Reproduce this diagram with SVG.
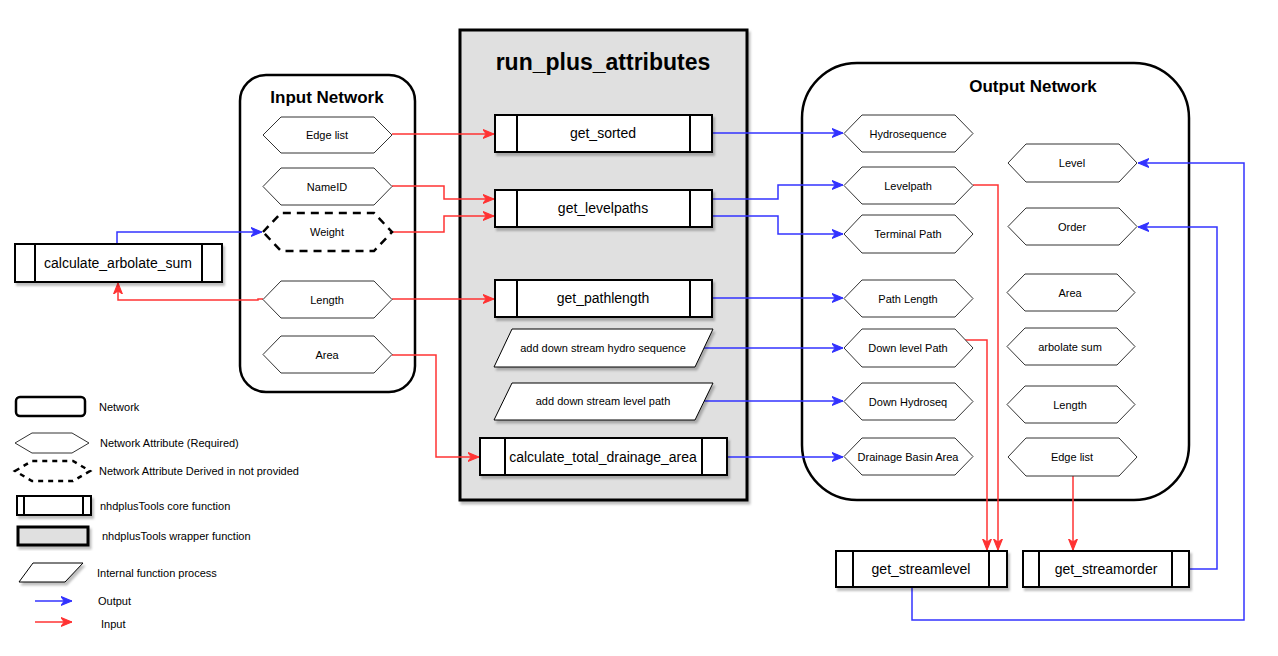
<svg xmlns="http://www.w3.org/2000/svg" width="1278" height="656" viewBox="0 0 1278 656">
<defs>
<style>
text{font-family:"Liberation Sans",Arial,Helvetica,sans-serif;fill:#000;text-anchor:middle}
.t11{font-size:11px}
.t14{font-size:14px}
.title{font-size:17px;font-weight:bold}
.big{font-size:23px;font-weight:bold}
.lg{font-size:11px;text-anchor:start}
.hex{fill:#fff;stroke:#333;stroke-width:1}
.hexd{fill:#fff;stroke:#000;stroke-width:2.5;stroke-dasharray:8 6}
.net{fill:#fff;stroke:#000;stroke-width:2.5}
.core{fill:#fff;stroke:#000;stroke-width:2}
.wrap{fill:#e0e0e0;stroke:#000;stroke-width:3}
.para{fill:#fff;stroke:#000;stroke-width:1}
.red{fill:none;stroke:#ff3333;stroke-width:1.5;marker-end:url(#ar)}
.blue{fill:none;stroke:#3333ff;stroke-width:1.5;marker-end:url(#ab)}
</style>
<filter id="sh" x="-10%" y="-10%" width="130%" height="140%">
<feDropShadow dx="2" dy="3" stdDeviation="1" flood-color="#000" flood-opacity="0.25"/>
</filter>
<marker id="ar" viewBox="0 0 10 10" refX="10" refY="5" markerWidth="11" markerHeight="11" markerUnits="userSpaceOnUse" orient="auto">
<path d="M0,1 L10,5 L0,9 L3,5 Z" fill="#ff3333" stroke="#ff3333" stroke-width="1"/>
</marker>
<marker id="ab" viewBox="0 0 10 10" refX="10" refY="5" markerWidth="11" markerHeight="11" markerUnits="userSpaceOnUse" orient="auto">
<path d="M0,1 L10,5 L0,9 L3,5 Z" fill="#3333ff" stroke="#3333ff" stroke-width="1"/>
</marker>
</defs>
<rect x="0" y="0" width="1278" height="656" fill="#fff"/>

<!-- Containers -->
<g id="run_plus_attributes">
<rect class="wrap" x="460" y="30" width="287" height="470" filter="url(#sh)"/>
<text class="big" x="603" y="70">run_plus_attributes</text>
</g>
<g id="input_network">
<rect class="net" x="240" y="75" width="175" height="317" rx="26" ry="26"/>
<text class="title" x="327" y="103">Input Network</text>
</g>
<g id="output_network">
<rect class="net" x="802" y="63" width="387" height="437" rx="55" ry="55"/>
<text class="title" x="1033" y="92">Output Network</text>
</g>

<!-- Connectors -->
<g id="connectors">
<path class="blue" d="M117,244 L117,232 L262,232"/>
<path class="red" d="M263,299 L258,299 L258,300 L118,300 L118,283"/>
<path class="red" d="M392,134 L494,134"/>
<path class="red" d="M392,186 L444,186 L444,199 L494,199"/>
<path class="red" d="M392,232 L444,232 L444,216 L494,216"/>
<path class="red" d="M392,299 L494,299"/>
<path class="red" d="M392,355 L436,355 L436,457 L479,457"/>
<path class="blue" d="M712,133 L843,133"/>
<path class="blue" d="M712,199 L778,199 L778,185 L843,185"/>
<path class="blue" d="M712,216 L778,216 L778,234 L843,234"/>
<path class="blue" d="M712,298 L843,298"/>
<path class="blue" d="M703,348 L843,348"/>
<path class="blue" d="M703,401 L843,401"/>
<path class="blue" d="M727,457 L843,457"/>
<path class="red" d="M973,185 L998,185 L998,550"/>
<path class="red" d="M965,340 L987,340 L987,550"/>
<path class="red" d="M1073,476 L1073,550"/>
<path class="blue" d="M1189,569 L1217,569 L1217,227 L1138,227"/>
<path class="blue" d="M912,587 L912,620 L1244,620 L1244,163 L1138,163"/>
</g>

<!-- calculate_arbolate_sum -->
<g id="calculate_arbolate_sum">
<rect class="core" x="15" y="244" width="207" height="38" filter="url(#sh)"/>
<line x1="35" y1="244" x2="35" y2="282" stroke="#000" stroke-width="2"/>
<line x1="202" y1="244" x2="202" y2="282" stroke="#000" stroke-width="2"/>
<text class="t14" x="118" y="268">calculate_arbolate_sum</text>
</g>

<!-- Input attributes -->
<g id="in_edge_list">
<polygon class="hex" points="263,135 281,117 374,117 392,135 374,153 281,153"/>
<text class="t11" x="327" y="139">Edge list</text>
</g>
<g id="in_nameid">
<polygon class="hex" points="263,186.5 281,168 374,168 392,186.5 374,205 281,205"/>
<text class="t11" x="327" y="190.5">NameID</text>
</g>
<g id="in_weight">
<polygon class="hexd" points="263,232 281,213 374,213 392,232 374,251 281,251"/>
<text class="t11" x="327" y="236">Weight</text>
</g>
<g id="in_length">
<polygon class="hex" points="263,299.5 281,281 374,281 392,299.5 374,318 281,318"/>
<text class="t11" x="327" y="303.5">Length</text>
</g>
<g id="in_area">
<polygon class="hex" points="263,354.5 281,336 374,336 392,354.5 374,373 281,373"/>
<text class="t11" x="327" y="358.5">Area</text>
</g>

<!-- Core functions inside wrapper -->
<g id="get_sorted">
<rect class="core" x="495" y="115" width="217" height="37" filter="url(#sh)"/>
<line x1="517" y1="115" x2="517" y2="152" stroke="#000" stroke-width="2"/>
<line x1="690" y1="115" x2="690" y2="152" stroke="#000" stroke-width="2"/>
<text class="t14" x="603" y="138">get_sorted</text>
</g>
<g id="get_levelpaths">
<rect class="core" x="495" y="190" width="217" height="37" filter="url(#sh)"/>
<line x1="517" y1="190" x2="517" y2="227" stroke="#000" stroke-width="2"/>
<line x1="690" y1="190" x2="690" y2="227" stroke="#000" stroke-width="2"/>
<text class="t14" x="603" y="213">get_levelpaths</text>
</g>
<g id="get_pathlength">
<rect class="core" x="495" y="280" width="217" height="37" filter="url(#sh)"/>
<line x1="517" y1="280" x2="517" y2="317" stroke="#000" stroke-width="2"/>
<line x1="690" y1="280" x2="690" y2="317" stroke="#000" stroke-width="2"/>
<text class="t14" x="603" y="303">get_pathlength</text>
</g>
<g id="add_ds_hydroseq">
<polygon class="para" points="494,367 512,329 713,329 695,367" filter="url(#sh)"/>
<text class="t11" x="603" y="352">add down stream hydro sequence</text>
</g>
<g id="add_ds_levelpath">
<polygon class="para" points="494,420 512,383 713,383 695,420" filter="url(#sh)"/>
<text class="t11" x="603" y="405">add down stream level path</text>
</g>
<g id="calculate_total_drainage_area">
<rect class="core" x="480" y="438" width="247" height="37" filter="url(#sh)"/>
<line x1="505" y1="438" x2="505" y2="475" stroke="#000" stroke-width="2"/>
<line x1="702" y1="438" x2="702" y2="475" stroke="#000" stroke-width="2"/>
<text class="t14" x="603" y="461.5">calculate_total_drainage_area</text>
</g>

<!-- Output attributes left column -->
<g id="out_hydrosequence">
<polygon class="hex" points="844,133.5 862,115 955,115 973,133.5 955,152 862,152"/>
<text class="t11" x="908" y="137.5">Hydrosequence</text>
</g>
<g id="out_levelpath">
<polygon class="hex" points="844,185.5 862,167 955,167 973,185.5 955,204 862,204"/>
<text class="t11" x="908" y="189.5">Levelpath</text>
</g>
<g id="out_terminal_path">
<polygon class="hex" points="844,234 862,215 955,215 973,234 955,253 862,253"/>
<text class="t11" x="908" y="238">Terminal Path</text>
</g>
<g id="out_path_length">
<polygon class="hex" points="844,298.5 862,280 955,280 973,298.5 955,317 862,317"/>
<text class="t11" x="908" y="302.5">Path Length</text>
</g>
<g id="out_down_level_path">
<polygon class="hex" points="844,348 862,329 955,329 973,348 955,367 862,367"/>
<text class="t11" x="908" y="352">Down level Path</text>
</g>
<g id="out_down_hydroseq">
<polygon class="hex" points="844,401.5 862,383 955,383 973,401.5 955,420 862,420"/>
<text class="t11" x="908" y="405.5">Down Hydroseq</text>
</g>
<g id="out_drainage_basin_area">
<polygon class="hex" points="844,456.5 862,438 955,438 973,456.5 955,475 862,475"/>
<text class="t11" x="908" y="460.5">Drainage Basin Area</text>
</g>

<!-- Output attributes right column -->
<g id="out_level">
<polygon class="hex" points="1008,163 1026,144 1119,144 1137,163 1119,182 1026,182"/>
<text class="t11" x="1072" y="167">Level</text>
</g>
<g id="out_order">
<polygon class="hex" points="1008,226.5 1026,208 1119,208 1137,226.5 1119,245 1026,245"/>
<text class="t11" x="1072" y="230.5">Order</text>
</g>
<g id="out_area">
<polygon class="hex" points="1007,292.5 1025,274 1117,274 1135,292.5 1117,311 1025,311"/>
<text class="t11" x="1070" y="296.5">Area</text>
</g>
<g id="out_arbolate_sum">
<polygon class="hex" points="1007,346.5 1025,328 1117,328 1135,346.5 1117,365 1025,365"/>
<text class="t11" x="1070" y="350.5">arbolate sum</text>
</g>
<g id="out_length">
<polygon class="hex" points="1007,404.5 1025,386 1117,386 1135,404.5 1117,423 1025,423"/>
<text class="t11" x="1070" y="408.5">Length</text>
</g>
<g id="out_edge_list">
<polygon class="hex" points="1008,457 1026,438 1119,438 1137,457 1119,476 1026,476"/>
<text class="t11" x="1072" y="461">Edge list</text>
</g>

<!-- Bottom functions -->
<g id="get_streamlevel">
<rect class="core" x="836" y="551" width="171" height="36" filter="url(#sh)"/>
<line x1="853" y1="551" x2="853" y2="587" stroke="#000" stroke-width="2"/>
<line x1="989" y1="551" x2="989" y2="587" stroke="#000" stroke-width="2"/>
<text class="t14" x="921" y="574">get_streamlevel</text>
</g>
<g id="get_streamorder">
<rect class="core" x="1023" y="551" width="166" height="36" filter="url(#sh)"/>
<line x1="1039" y1="551" x2="1039" y2="587" stroke="#000" stroke-width="2"/>
<line x1="1172" y1="551" x2="1172" y2="587" stroke="#000" stroke-width="2"/>
<text class="t14" x="1106" y="574">get_streamorder</text>
</g>

<!-- Legend -->
<g id="legend">
<rect x="16" y="397" width="69" height="19" rx="4" ry="4" fill="#fff" stroke="#000" stroke-width="2.5"/>
<text class="lg" x="99" y="411">Network</text>
<polygon class="hex" points="15,443 32,433 72,433 89,443 72,453 32,453"/>
<text class="lg" x="100" y="447">Network Attribute (Required)</text>
<polygon class="hexd" points="15,471 32,461 73,461 90,471 73,481 32,481" stroke-width="2" style="stroke-dasharray:5 5"/>
<text class="lg" x="99" y="475">Network Attribute Derived in not provided</text>
<rect x="17" y="496" width="74" height="19" fill="#fff" stroke="#000" stroke-width="2" filter="url(#sh)"/>
<line x1="24" y1="496" x2="24" y2="515" stroke="#000" stroke-width="2"/>
<line x1="83" y1="496" x2="83" y2="515" stroke="#000" stroke-width="2"/>
<text class="lg" x="100" y="510">nhdplusTools core function</text>
<rect x="18" y="527" width="70" height="18" fill="#e0e0e0" stroke="#000" stroke-width="3" filter="url(#sh)"/>
<text class="lg" x="102" y="540">nhdplusTools wrapper function</text>
<polygon class="para" points="19,582 33,563 83,563 65,582" filter="url(#sh)"/>
<text class="lg" x="97" y="577">Internal function process</text>
<path class="blue" d="M35,601 L72,601"/>
<text class="lg" x="98" y="605">Output</text>
<path class="red" d="M35,622 L72,622"/>
<text class="lg" x="101" y="628">Input</text>
</g>
</svg>
